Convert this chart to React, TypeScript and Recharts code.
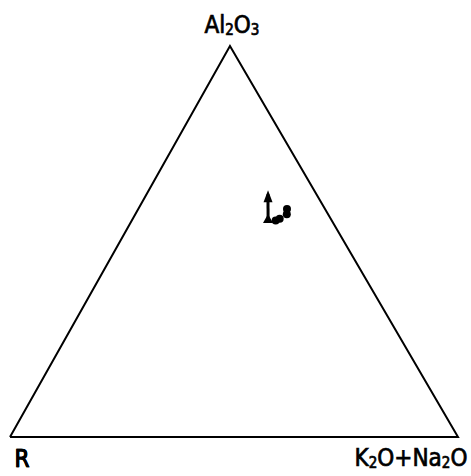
import { ScatterChart, Scatter, XAxis, YAxis } from 'recharts'

// ternary compositions, in percent: [Al2O3, R, K2O+Na2O]
const vertices = [
  { name: 'R', al: 0, r: 100, kn: 0 },
  { name: 'K2O+Na2O', al: 0, r: 0, kn: 100 },
  { name: 'Al2O3', al: 100, r: 0, kn: 0 },
  { name: 'R', al: 0, r: 100, kn: 0 },
]
const trendFrom = { al: 55.0, r: 14.4, kn: 30.6 }
const trendTo = { al: 62.1, r: 10.8, kn: 27.1 }
const triangleSamples = [{ al: 56.0, r: 13.9, kn: 30.1 }]
const circleSamples = [
  { al: 58.3, r: 8.5, kn: 33.2 },
  { al: 57.0, r: 9.2, kn: 33.8 },
  { al: 55.8, r: 11.4, kn: 32.8 },
  { al: 55.4, r: 12.5, kn: 32.1 },
]

// the apex sits a little left of the base midpoint
const APEX_X = 0.491

const toXY = (p: { al: number; r: number; kn: number }) => {
  const a = p.al / 100
  const k = p.kn / 100
  return { ...p, x: k + a * APEX_X, y: a }
}

const outline = vertices.map(toXY)
const trend = [trendFrom, trendTo].map(toXY)
const triPts = triangleSamples.map(toXY)
const circlePts = circleSamples.map(toXY)

const labelFont = "'DejaVu Sans Condensed', 'DejaVu Sans', sans-serif"
const labelStyle = { fontFamily: labelFont, fontSize: 24, fill: '#000', stroke: '#000', strokeWidth: 0.7 }

const VertexLabel = (props: any) => {
  const { cx, cy, payload } = props
  if (payload.name === 'Al2O3') {
    return (
      <text x={cx + 2} y={cy - 13} textAnchor="middle" {...labelStyle}>
        Al<tspan fontSize={15} dy={2}>2</tspan><tspan dy={-2}>O</tspan><tspan fontSize={15} dy={2}>3</tspan>
      </text>
    )
  }
  if (payload.name === 'R') {
    return (
      <text x={cx + 12} y={cy + 30} textAnchor="middle" {...labelStyle}>
        R
      </text>
    )
  }
  return (
    <text x={cx - 47} y={cy + 29} textAnchor="middle" {...labelStyle}>
      K<tspan fontSize={15} dy={2}>2</tspan><tspan dy={-2}>O+Na</tspan><tspan fontSize={15} dy={2}>2</tspan><tspan dy={-2}>O</tspan>
    </text>
  )
}

const ArrowHead = (props: any) => {
  const { cx, cy, index } = props
  if (index !== 1) return <g />
  return <path d={`M${cx},${cy - 4} L${cx - 4.5},${cy + 8} L${cx + 4.5},${cy + 8} Z`} fill="#000" />
}

const TriMarker = (props: any) => {
  const { cx, cy } = props
  return <path d={`M${cx},${cy - 4} L${cx - 5},${cy + 5} L${cx + 5},${cy + 5} Z`} fill="#000" />
}

const Blob = (props: any) => {
  const { cx, cy } = props
  return <circle cx={cx} cy={cy} r={4} fill="#000" />
}

export default function App() {
  return (
    <div style={{ position: 'absolute', left: 0, top: 0, background: '#fff' }}>
      <ScatterChart width={471} height={476} margin={{ top: 46, right: 13, bottom: 39, left: 10 }}>
        <XAxis type="number" dataKey="x" domain={[0, 1]} hide />
        <YAxis type="number" dataKey="y" domain={[0, 1]} hide />
        <Scatter
          data={outline}
          line={{ stroke: '#000', strokeWidth: 2 }}
          shape={<VertexLabel />}
          isAnimationActive={false}
        />
        <Scatter
          data={trend}
          line={{ stroke: '#000', strokeWidth: 3 }}
          shape={<ArrowHead />}
          isAnimationActive={false}
        />
        <Scatter data={triPts} shape={<TriMarker />} isAnimationActive={false} />
        <Scatter data={circlePts} shape={<Blob />} isAnimationActive={false} />
      </ScatterChart>
    </div>
  )
}
